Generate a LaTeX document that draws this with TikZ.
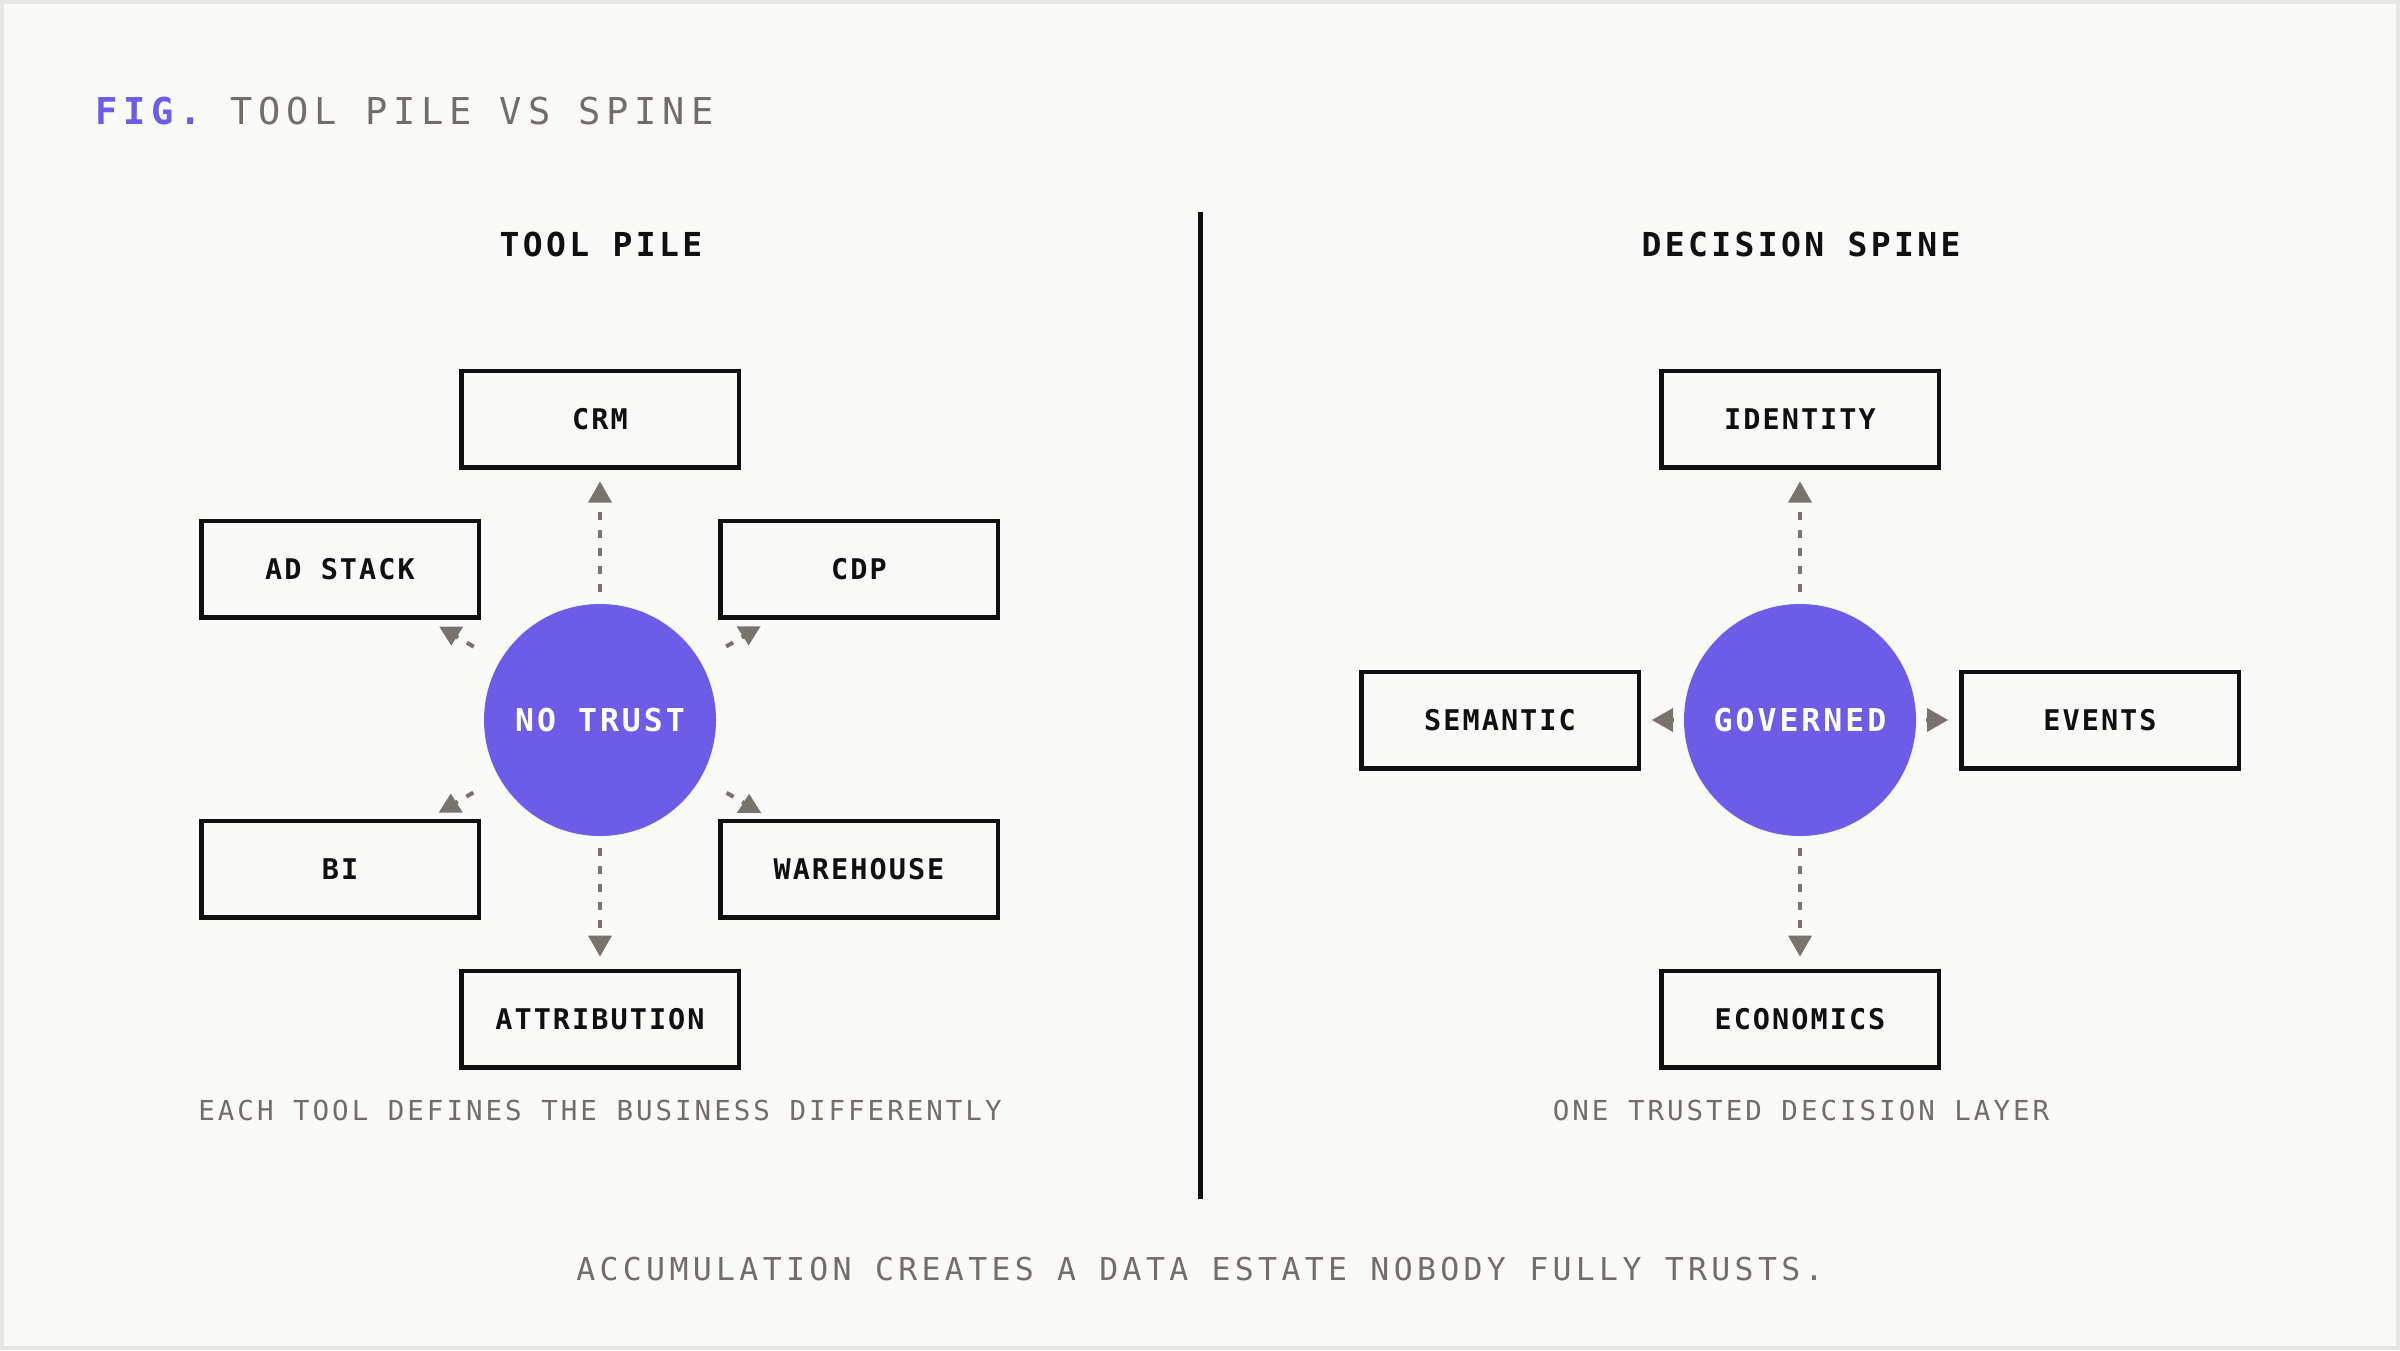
\documentclass[tikz,border=0pt]{standalone}
\usepackage{fontspec}
\usetikzlibrary{arrows.meta,calc}
\newfontfamily\titlefont[LetterSpace=15.9]{DejaVu Sans Mono}
\newfontfamily\headfont[LetterSpace=10.3]{DejaVu Sans Mono}
\newfontfamily\boxfont[LetterSpace=7.2]{DejaVu Sans Mono}
\newfontfamily\hubfont[LetterSpace=9.6]{DejaVu Sans Mono}
\newfontfamily\subfont[LetterSpace=10.9]{DejaVu Sans Mono}
\newfontfamily\footfont[LetterSpace=13.8]{DejaVu Sans Mono}
\definecolor{bg}{HTML}{F9F9F7}
\definecolor{frame}{HTML}{E6E5E2}
\definecolor{accent}{HTML}{6C5CE7}
\definecolor{muted}{HTML}{746D67}
\definecolor{arrowgray}{HTML}{7A736D}
\definecolor{ink}{HTML}{101010}
\begin{document}
\begin{tikzpicture}[x=1pt,y=-1pt,
  toolbox/.style={draw=ink, line width=4.5pt, fill=bg, minimum width=277.5pt, minimum height=96.5pt,
    inner sep=0pt, text height=20.8pt, text depth=0pt, text=ink,
    font=\boxfont\bfseries\fontsize{28.5}{30}\selectfont},
  hub/.style={circle, fill=accent, minimum size=232pt, inner sep=0pt, outer sep=0pt, text=white,
    text height=23pt, text depth=0pt, font=\hubfont\bfseries\fontsize{31.5}{34}\selectfont},
  conn/.style={draw=arrowgray, line width=4pt, dash pattern=on 8pt off 10pt,
    -{Triangle[width=24pt,length=21pt,line width=0pt]}, shorten <=12pt, shorten >=12pt},
  dashline/.style={draw=arrowgray, line width=4pt, dash pattern=on 8pt off 10pt},
  headtext/.style={anchor=base, inner sep=0pt, text=ink, font=\headfont\bfseries\fontsize{33}{36}\selectfont},
  subtext/.style={anchor=base, inner sep=0pt, text=muted, font=\subfont\fontsize{27.5}{30}\selectfont},
  foottext/.style={anchor=base, inner sep=0pt, text=muted, font=\footfont\fontsize{31.5}{34}\selectfont},
  tipgray/.style={fill=arrowgray}
]
% background and frame
\fill[frame] (0,0) rectangle (2400,1350);
\fill[bg] (4,4) rectangle (2396,1346);
\useasboundingbox (0,0) rectangle (2400,1350);

% title
\node[anchor=base west, inner sep=0pt, text=muted, font=\titlefont\fontsize{37}{40}\selectfont] (title) at (95,124)
  {{\color{accent}\bfseries FIG.} TOOL PILE VS SPINE};

% headers
\node[headtext] (lhead) at (601,256) {TOOL PILE};
\node[headtext] (rhead) at (1801,256) {DECISION SPINE};

% divider
\coordinate (divtop) at (1200,212);
\coordinate (divbot) at (1200,1199);
\draw[ink, line width=5pt] (divtop) -- (divbot);

% ---------- left: tool pile ----------
\node[hub] (np) at (600,720) {NO TRUST};
\node[toolbox] (crm) at (600,419) {CRM};
\node[toolbox] (adstack) at (340,569) {AD STACK};
\node[toolbox] (cdp) at (859,569) {CDP};
\node[toolbox] (bi) at (340,869) {BI};
\node[toolbox] (warehouse) at (859,869) {WAREHOUSE};
\node[toolbox] (attribution) at (600,1019) {ATTRIBUTION};

\draw[conn] (np) -- (crm);
\draw[conn] (np) -- (attribution);

% diagonal connectors (short dashed stubs with vertical heads)
\foreach \t/\dir in {adstack/-1,cdp/-1,bi/1,warehouse/1}{
  \coordinate (\t-s) at ($(np)!146pt!(\t)$);
  \coordinate (\t-e) at ($(np)!172pt!(\t)$);
  \draw[dashline] (\t-s) -- (\t-e);
  \fill[tipgray] ($(\t-e)+(-12,7*\dir)$) -- ($(\t-e)+(12,7*\dir)$) -- ($(\t-e)+(0,-12*\dir)$) -- cycle;
}

\node[subtext] (lsub) at (600,1120) {EACH TOOL DEFINES THE BUSINESS DIFFERENTLY};

% ---------- right: decision spine ----------
\node[hub] (gov) at (1800,720) {GOVERNED};
\node[toolbox] (identity) at (1800,419) {IDENTITY};
\node[toolbox] (semantic) at (1500,720) {SEMANTIC};
\node[toolbox] (events) at (2100,720) {EVENTS};
\node[toolbox] (economics) at (1800,1019) {ECONOMICS};

\draw[conn] (gov) -- (identity);
\draw[conn] (gov) -- (economics);
\draw[conn, shorten <=10pt, shorten >=11pt] (gov) -- (semantic);
\draw[conn, shorten <=10pt, shorten >=11pt] (gov) -- (events);

\node[subtext] (rsub) at (1801,1120) {ONE TRUSTED DECISION LAYER};

% footer
\node[foottext] (footer) at (1200,1280) {ACCUMULATION CREATES A DATA ESTATE NOBODY FULLY TRUSTS.};
\end{tikzpicture}
\end{document}
